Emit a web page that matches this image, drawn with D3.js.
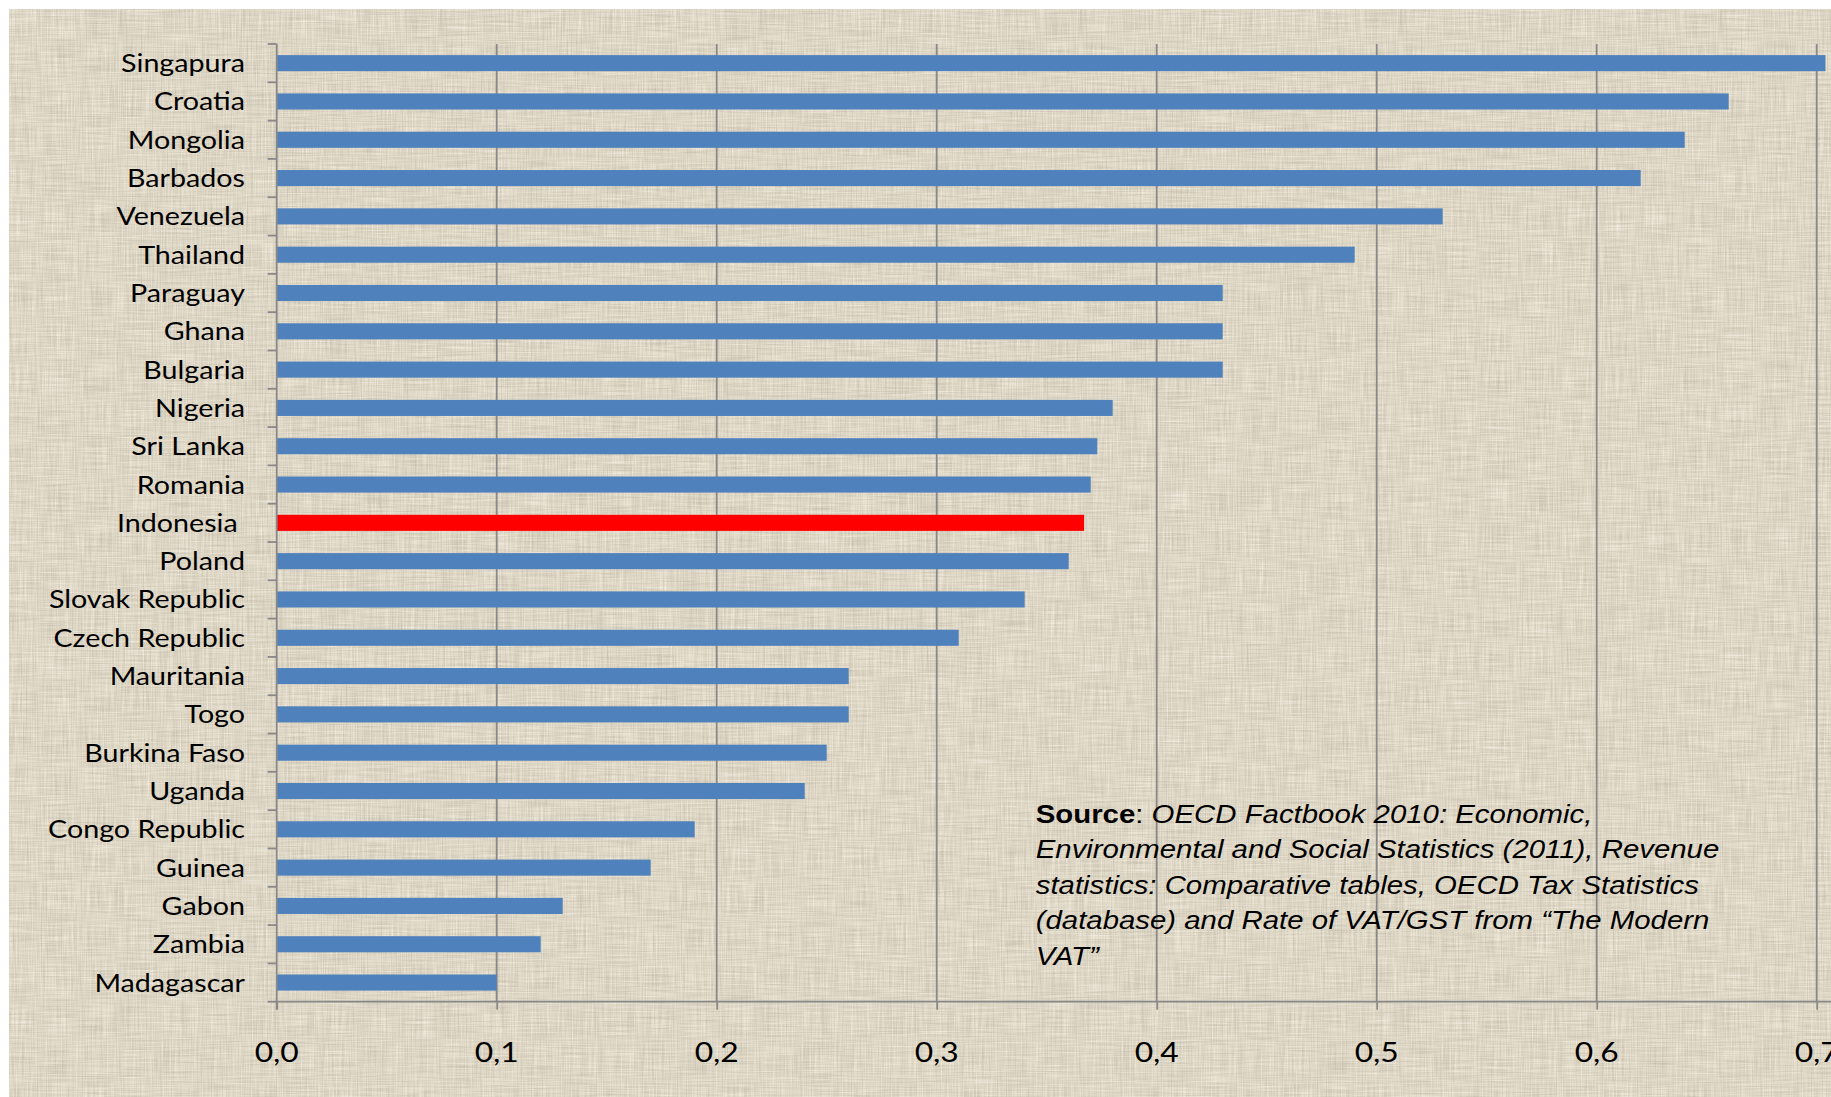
<!DOCTYPE html>
<html>
<head>
<meta charset="utf-8">
<script src="https://cdn.jsdelivr.net/npm/d3@7"></script>
<style>
  html, body { margin: 0; padding: 0; background: #ffffff; }
  svg { display: block; }
  .cat { font-family: Lato, "Open Sans", sans-serif; font-size: 24.5px; fill: #000; white-space: pre; }
  .tick-label { font-family: Lato, "Open Sans", sans-serif; font-size: 26.5px; fill: #000; }
  .source { font-family: "Liberation Sans", Arial, sans-serif; font-size: 26px; fill: #000; }
</style>
</head>
<body>
<script>
// VAT efficiency ratio by country (C-efficiency), highest first
const categories = [
  "Singapura", "Croatia", "Mongolia", "Barbados", "Venezuela", "Thailand",
  "Paraguay", "Ghana", "Bulgaria", "Nigeria", "Sri Lanka", "Romania",
  "Indonesia ", "Poland", "Slovak Republic", "Czech Republic", "Mauritania",
  "Togo", "Burkina Faso", "Uganda", "Congo Republic", "Guinea", "Gabon",
  "Zambia", "Madagascar"
];
const values = [
  0.704, 0.66, 0.64, 0.62, 0.53, 0.49,
  0.43, 0.43, 0.43, 0.38, 0.373, 0.37,
  0.367, 0.36, 0.34, 0.31, 0.26,
  0.26, 0.25, 0.24, 0.19, 0.17, 0.13,
  0.12, 0.10
];
const highlighted = ["Indonesia "];
const xTickValues = [0, 0.1, 0.2, 0.3, 0.4, 0.5, 0.6, 0.7];
const sourceLines = [
  [{t: "Source", w: "bold", s: "normal"}, {t: ": ", w: "normal", s: "normal"}, {t: "OECD Factbook 2010: Economic,", w: "normal", s: "italic"}],
  [{t: "Environmental and Social Statistics (2011), Revenue", w: "normal", s: "italic"}],
  [{t: "statistics: Comparative tables, OECD Tax Statistics", w: "normal", s: "italic"}],
  [{t: "(database) and Rate of VAT/GST from \u201CThe Modern", w: "normal", s: "italic"}],
  [{t: "VAT\u201D", w: "normal", s: "italic"}]
];

const W = 1831, H = 1097;
const plot = {left: 276.7, top: 44, bottom: 1001.7, right: 1816.7};
const textStretch = 1.17;

const svg = d3.select("body").append("svg").attr("width", W).attr("height", H);

// linen-like paper background: fine woven streaks in both directions
const defs = svg.append("defs");
const f = defs.append("filter").attr("id", "linen")
  .attr("filterUnits", "userSpaceOnUse")
  .attr("x", 9).attr("y", 9).attr("width", W - 9).attr("height", H - 9);
f.append("feTurbulence").attr("type", "fractalNoise").attr("baseFrequency", "0.8 0.025")
  .attr("numOctaves", 2).attr("seed", 4).attr("result", "vert");
f.append("feTurbulence").attr("type", "fractalNoise").attr("baseFrequency", "0.025 0.8")
  .attr("numOctaves", 2).attr("seed", 9).attr("result", "horz");
f.append("feComposite").attr("in", "vert").attr("in2", "horz").attr("operator", "arithmetic")
  .attr("k2", 0.5).attr("k3", 0.5).attr("result", "mix");
f.append("feColorMatrix").attr("in", "mix").attr("type", "matrix")
  .attr("values", "0 0 0 0 0.50  0 0 0 0 0.46  0 0 0 0 0.38  2.2 0 0 0 -1.05")
  .attr("result", "dark");
f.append("feColorMatrix").attr("in", "mix").attr("type", "matrix")
  .attr("values", "0 0 0 0 0.97  0 0 0 0 0.95  0 0 0 0 0.90  -2.2 0 0 0 1.05")
  .attr("result", "light");
f.append("feMerge").selectAll("feMergeNode").data(["dark", "light"]).join("feMergeNode")
  .attr("in", d => d);

svg.append("rect").attr("x", 9).attr("y", 9).attr("width", W - 9).attr("height", H - 9)
  .attr("fill", "#e0d8c6");
svg.append("rect").attr("x", 9).attr("y", 9).attr("width", W - 9).attr("height", H - 9)
  .attr("fill", "#e0d8c6").attr("filter", "url(#linen)");

// scales
const x = d3.scaleLinear().domain([0, 0.7]).range([plot.left, plot.right]);
const y = d3.scaleBand().domain(categories).range([plot.top, plot.bottom])
  .paddingInner(0.58).paddingOuter(0.29);

const gridColor = "#888888";

// vertical gridlines
svg.append("g").selectAll("line").data(xTickValues.filter(d => d > 0)).join("line")
  .attr("x1", d => x(d)).attr("x2", d => x(d))
  .attr("y1", plot.top).attr("y2", plot.bottom)
  .attr("stroke", gridColor).attr("stroke-width", 1.8);

// bars
svg.append("g").selectAll("rect").data(categories).join("rect")
  .attr("x", x(0))
  .attr("y", d => y(d))
  .attr("width", (d, i) => x(values[i]) - x(0))
  .attr("height", y.bandwidth())
  .attr("fill", d => highlighted.includes(d) ? "#ff0000" : "#4f81bd");

// x axis
const xAxis = d3.axisBottom(x).tickValues(xTickValues).tickSize(8).tickSizeOuter(0).tickFormat("");
const gx = svg.append("g").attr("transform", `translate(0,${plot.bottom})`).call(xAxis);
gx.select(".domain").remove();
gx.selectAll(".tick line").attr("stroke", gridColor).attr("stroke-width", 1.8);
gx.append("line").attr("x1", plot.left).attr("x2", W).attr("y1", 0).attr("y2", 0)
  .attr("stroke", gridColor).attr("stroke-width", 1.8);

svg.append("g").selectAll("text").data(xTickValues).join("text")
  .attr("class", "tick-label")
  .attr("text-anchor", "middle")
  .attr("transform", d => `translate(${x(d)},${plot.bottom + 60}) scale(1.2,1)`)
  .text(d => d.toFixed(1).replace(".", ","));

// y axis with ticks on category boundaries
const boundaries = categories.map(c => y(c) - y.step() * y.paddingInner() / 2)
  .concat([plot.bottom]);
const gy = svg.append("g");
gy.append("line").attr("x1", plot.left).attr("x2", plot.left)
  .attr("y1", plot.top).attr("y2", plot.bottom + 8)
  .attr("stroke", gridColor).attr("stroke-width", 1.8);
gy.selectAll("line.b").data(boundaries).join("line").attr("class", "b")
  .attr("x1", plot.left - 9).attr("x2", plot.left)
  .attr("y1", d => d).attr("y2", d => d)
  .attr("stroke", gridColor).attr("stroke-width", 1.8);

svg.append("g").selectAll("text").data(categories).join("text")
  .attr("class", "cat")
  .attr("text-anchor", "end")
  .attr("transform", d => `translate(245,${y(d) + y.bandwidth() / 2 + 9}) scale(${textStretch},1)`)
  .text(d => d);

// source note
const src = svg.append("g").attr("transform", "translate(1035.7,822.7) scale(1.13,1)");
sourceLines.forEach((line, i) => {
  const t = src.append("text").attr("class", "source").attr("y", i * 35.6);
  line.forEach(seg => {
    t.append("tspan").attr("font-weight", seg.w).attr("font-style", seg.s).text(seg.t);
  });
});
</script>
</body>
</html>
